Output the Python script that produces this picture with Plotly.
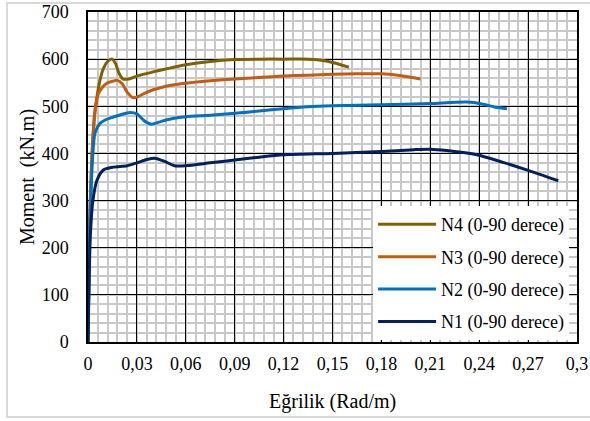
import plotly.graph_objects as go

# Curvature (Rad/m) and moment (kN.m) values
n4_x = [0, 0.001, 0.0025, 0.004, 0.0055, 0.0074, 0.0094, 0.012, 0.0147, 0.017, 0.019, 0.0215,
        0.025, 0.03, 0.04, 0.05, 0.06, 0.075, 0.09, 0.105, 0.12, 0.135, 0.142, 0.15, 0.16]
n4_y = [0, 250, 400, 480, 520, 556, 580, 595, 600, 590, 570, 558,
        558, 564, 573, 581, 588, 595, 599, 600, 600, 600, 598, 593, 583]

n3_x = [0, 0.001, 0.0025, 0.0043, 0.0063, 0.009, 0.0115, 0.015, 0.018, 0.021, 0.024, 0.0278,
        0.031, 0.035, 0.04, 0.045, 0.05, 0.06, 0.075, 0.09, 0.105, 0.12, 0.135, 0.15, 0.165,
        0.18, 0.19, 0.204]
n3_y = [0, 250, 400, 490, 526, 541, 549, 553, 555, 548, 530, 518,
        521, 528, 535, 540, 544, 549, 554, 558, 561, 564, 566, 568, 569,
        569, 566, 558]

n2_x = [0, 0.0008, 0.002, 0.003, 0.0043, 0.0074, 0.0105, 0.0135, 0.02, 0.0258, 0.03, 0.035,
        0.039, 0.045, 0.052, 0.06, 0.075, 0.09, 0.105, 0.12, 0.135, 0.15, 0.18, 0.21, 0.2325,
        0.2417, 0.25, 0.257]
n2_y = [0, 200, 330, 400, 443, 464, 471, 475, 482, 487, 484, 468,
        462, 468, 474, 478, 481, 485, 490, 495, 499, 501, 503, 506, 509,
        505, 498, 495]

n1_x = [0, 0.0008, 0.0015, 0.003, 0.0055, 0.0094, 0.0155, 0.024, 0.03, 0.036, 0.041, 0.047,
        0.053, 0.06, 0.075, 0.09, 0.105, 0.12, 0.15, 0.18, 0.2, 0.21, 0.22, 0.2385, 0.2546,
        0.27, 0.2885]
n1_y = [0, 150, 230, 300, 343, 365, 371, 374, 380, 387, 390, 383,
        374, 374, 380, 386, 392, 397, 400, 404, 408, 409, 406, 397, 381,
        364, 342]

series_names = ["N4 (0-90 derece)", "N3 (0-90 derece)", "N2 (0-90 derece)", "N1 (0-90 derece)"]
series_colors = ["#7F6000", "#C55A11", "#0070C0", "#002060"]
series_x = [n4_x, n3_x, n2_x, n1_x]
series_y = [n4_y, n3_y, n2_y, n1_y]

x_tickvals = [0, 0.03, 0.06, 0.09, 0.12, 0.15, 0.18, 0.21, 0.24, 0.27, 0.3]
x_ticktext = ["0", "0,03", "0,06", "0,09", "0,12", "0,15", "0,18", "0,21", "0,24", "0,27", "0,3"]
y_tickvals = [0, 100, 200, 300, 400, 500, 600, 700]
x_title = "Eğrilik (Rad/m)"
y_title = "Moment  (kN.m)"

FONT = "'Liberation Serif', 'Times New Roman', Times, serif"

fig = go.Figure()
for name, color, xs, ys in zip(series_names, series_colors, series_x, series_y):
    fig.add_trace(go.Scatter(
        x=xs, y=ys, mode="lines", name=name, legendgroup=name,
        line=dict(color=color, width=3, shape="spline", smoothing=0.7),
    ))

axis_common = dict(
    showline=True, linecolor="black", linewidth=1.5, mirror=True,
    showgrid=True, gridcolor="#000000", gridwidth=1.3,
    zeroline=False, ticks="", automargin=False,
    tickfont=dict(family=FONT, size=18, color="black"),
)

fig.update_xaxes(
    range=[0, 0.3], tickvals=x_tickvals, ticktext=x_ticktext, ticklabelstandoff=5,
    minor=dict(dtick=0.006, showgrid=True, gridcolor="#c8c8c8", gridwidth=2, tick0=0),
    **axis_common,
)
fig.update_yaxes(
    range=[0, 700], tickvals=y_tickvals, ticklabelstandoff=14,
    minor=dict(dtick=20, showgrid=True, gridcolor="#c8c8c8", gridwidth=2, tick0=0),
    **axis_common,
)

fig.update_layout(
    width=590, height=421,
    margin=dict(l=88, r=13, t=12, b=79),
    paper_bgcolor="white", plot_bgcolor="white",
    font=dict(family=FONT, color="black"),
    legend=dict(
        x=0.583, y=0.412, xanchor="left", yanchor="top",
        bgcolor="white", borderwidth=0, itemwidth=58,
        font=dict(family=FONT, size=18, color="black"),
        tracegroupgap=6,
    ),
    annotations=[
        dict(text=x_title, xref="paper", yref="paper", x=0.5, y=-0.179,
             xanchor="center", yanchor="middle", showarrow=False,
             font=dict(family=FONT, size=20, color="black")),
        dict(text=y_title, xref="paper", yref="paper", x=-0.1247, y=0.5,
             xanchor="center", yanchor="middle", showarrow=False, textangle=-90,
             font=dict(family=FONT, size=20, color="black")),
    ],
    shapes=[dict(
        type="rect", xref="paper", yref="paper",
        x0=-0.1656, x1=1.05, y0=-0.227, y1=1.027,
        line=dict(color="#d9d9d9", width=2), fillcolor="rgba(0,0,0,0)", layer="below",
    )],
)

fig.write_html("out.html", post_script="document.body.style.margin='0';",
               config={"displayModeBar": False})
